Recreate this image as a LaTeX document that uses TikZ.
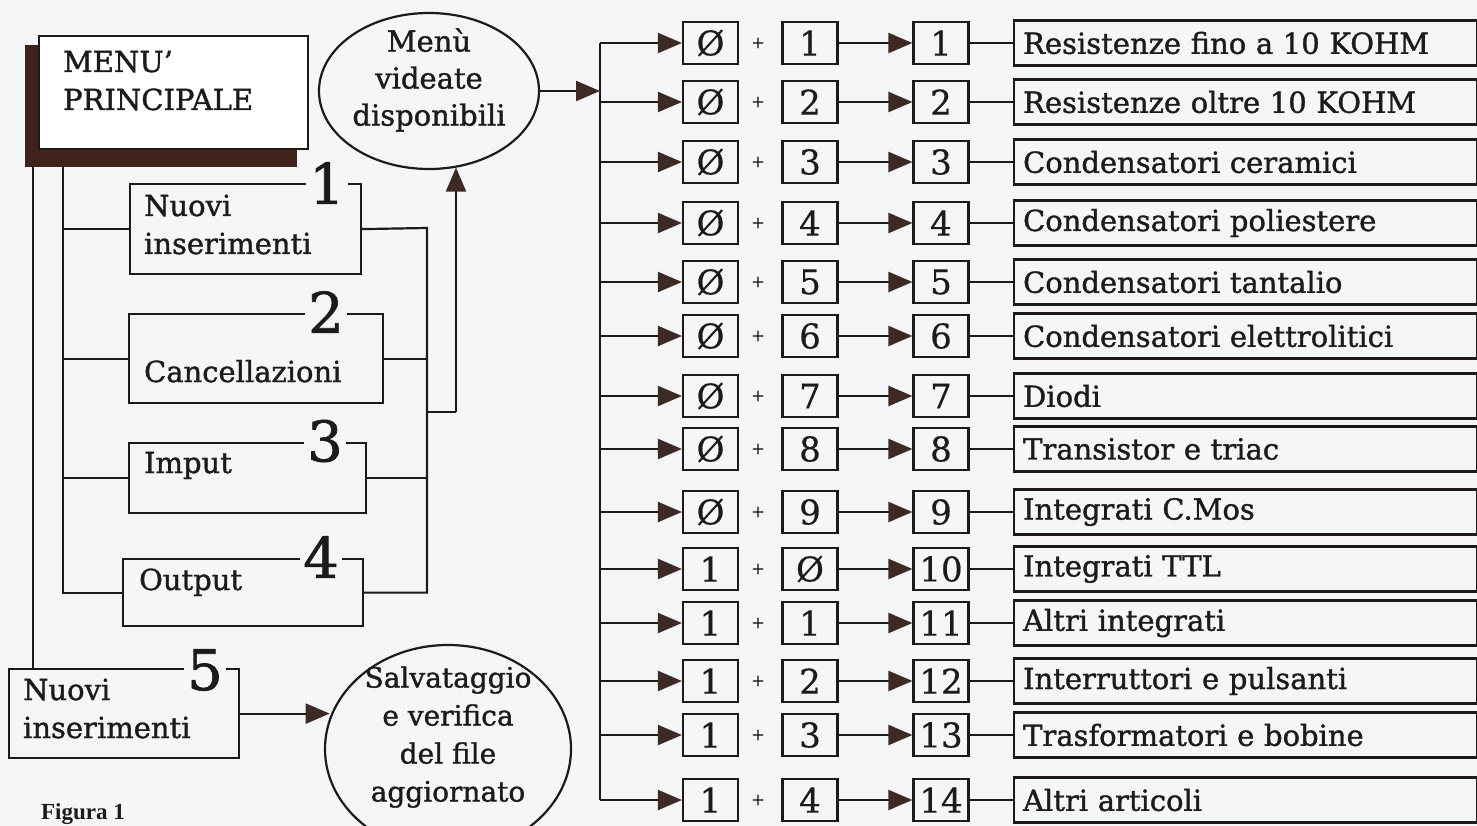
\documentclass[tikz,border=0pt]{standalone}
\usepackage{fontspec}
\setmainfont{DejaVu Serif}[FakeBold=1.2]
\newfontfamily\numfont{DejaVu Serif}[FakeBold=0.6]
\newfontfamily\figfont{Liberation Serif}
\usetikzlibrary{arrows.meta,shapes.geometric,calc}
\definecolor{bg}{HTML}{F4F6F8}
\definecolor{ink}{HTML}{1E1A1A}
\definecolor{headc}{HTML}{3E2A24}
\definecolor{shadowc}{HTML}{3F2219}
\newcommand\fsz[2]{\fontsize{#1}{#2}\selectfont}
\begin{document}
\begin{tikzpicture}[x=1pt,y=-1pt,line width=2.2pt,color=ink,
  arr/.style={-{Triangle[length=24pt,width=20pt,color=headc]}},
  frame/.style={draw=ink,fill=bg,inner sep=0pt,anchor=north west},
  txt/.style={inner sep=0pt,anchor=base west,font=\fsz{29}{37}},
  bignum/.style={fill=bg,inner xsep=3pt,inner ysep=0pt,font=\fsz{56}{56}},
  sbox/.style={draw=ink,fill=bg,minimum width=55pt,minimum height=42pt,inner sep=0pt,font=\numfont\fsz{34}{34}},
  lbox/.style={draw=ink,fill=bg,anchor=west,minimum width=463pt,minimum height=45pt,inner xsep=9pt,inner ysep=0pt,text width=445pt,align=left,font=\fsz{29}{29}},
  plus/.style={inner sep=0pt,font=\fsz{16}{16}},
  oval/.style={ellipse,draw=ink,fill=bg,inner sep=0pt}]
\fill[bg] (0,0) rectangle (1477,826);
\useasboundingbox (0,0) rectangle (1477,826);

% main menu with shadow
\fill[shadowc] (25,45) rectangle (297,167);
\node[draw=ink,fill=white,inner sep=0pt,anchor=north west,minimum width=269pt,minimum height=113pt] (menu) at (38,35) {};
\node[txt] (menut1) at (62,72) {MENU'};
\node[txt] (menut2) at (62,110) {PRINCIPALE};

% option boxes
\node[frame,minimum width=231pt,minimum height=90pt] (b1) at (129,183) {};
\node[frame,minimum width=254pt,minimum height=89pt] (b2) at (128,313) {};
\node[frame,minimum width=237pt,minimum height=70pt] (b3) at (128,442) {};
\node[frame,minimum width=240pt,minimum height=67pt] (b4) at (122,558) {};
\node[frame,minimum width=230pt,minimum height=89pt] (b5) at (8,668) {};

\node[txt] (b1t1) at (143,216) {Nuovi};
\node[txt] (b1t2) at (143,254) {inserimenti};
\node[txt] (b2t) at (143,382) {Cancellazioni};
\node[txt] (b3t) at (143,473) {Imput};
\node[txt] (b4t) at (138,590) {Output};
\node[txt] (b5t1) at (22,700) {Nuovi};
\node[txt] (b5t2) at (22,738) {inserimenti};

\node[bignum] (n1) at (327,183) {1};
\node[bignum] (n2) at (326,312) {2};
\node[bignum] (n3) at (325,441) {3};
\node[bignum] (n4) at (321,557) {4};
\node[bignum] (n5) at (205,670) {5};

% ellipses
\node[oval,minimum width=220pt,minimum height=156pt] (ell) at (429,91) {};
\node[inner sep=0pt,align=center,font=\fsz{29}{37}] (ellt) at (429,80) {Menù\\videate\\disponibili};
\node[oval,minimum width=246pt,minimum height=208pt] (ell2) at (448,749) {};
\node[inner sep=0pt,align=center,font=\fsz{28}{38}] (ell2t) at (448,737) {Salvataggio\\e verifica\\del file\\aggiornato};

% left trunk lines
\coordinate (o1) at (33,167);
\coordinate (i1) at (63,167);
\draw (o1) -- (o1 |- b5.north);
\draw (i1) |- (b4.west);
\draw (i1 |- b1.west) -- (b1.west);
\draw (i1 |- b2.west) -- (b2.west);
\draw (i1 |- b3.west) -- (b3.west);

% right merge
\coordinate (mtop) at (427,228);
\coordinate (j) at (427,412);
\coordinate (j2) at (456,412);
\draw (b1.east) -- (mtop) -- (mtop |- b4.east) -- (b4.east);
\draw (b2.east) -- (b2.east -| mtop);
\draw (b3.east) -- (b3.east -| mtop);
\draw (j) -- (j2);
\draw[arr] (j2) -- (j2 |- ell.-70);

% save arrow
\draw[arr] (b5.east) -- (b5.east -| ell2.165);

% bus
\coordinate (bustop) at (600,43);
\coordinate (busbot) at (600,800);
\draw (bustop) -- (busbot);
\draw[arr] (ell.east) -- (ell.east -| bustop);

\foreach \y/\a/\b/\c/\t [count=\i] in {
  43/Ø/1/1/Resistenze fino a 10 KOHM,
  102/Ø/2/2/Resistenze oltre 10 KOHM,
  162/Ø/3/3/Condensatori ceramici,
  223/Ø/4/4/Condensatori poliestere,
  282/Ø/5/5/Condensatori tantalio,
  336/Ø/6/6/Condensatori elettrolitici,
  396/Ø/7/7/Diodi,
  449/Ø/8/8/Transistor e triac,
  512/Ø/9/9/Integrati C.Mos,
  569/1/Ø/10/Integrati TTL,
  623/1/1/11/Altri integrati,
  681/1/2/12/Interruttori e pulsanti,
  735/1/3/13/Trasformatori e bobine,
  800/1/4/14/Altri articoli}{
  \node[sbox] (a\i) at (710.5,\y) {\a};
  \node[plus] (p\i) at (758,\y) {+};
  \node[sbox] (b\i) at (810,\y) {\b};
  \node[sbox] (c\i) at (941,\y) {\c};
  \node[lbox] (l\i) at (1013,\y) {\t};
  \draw[arr] (a\i.west -| bustop) -- (a\i.west);
  \draw[arr] (b\i.east) -- (c\i.west);
  \draw (c\i.east) -- (l\i.west);
}

\node[inner sep=0pt,anchor=base west,font=\figfont\bfseries\fsz{23}{23}] (fig) at (40,819) {Figura 1};
\end{tikzpicture}
\end{document}
